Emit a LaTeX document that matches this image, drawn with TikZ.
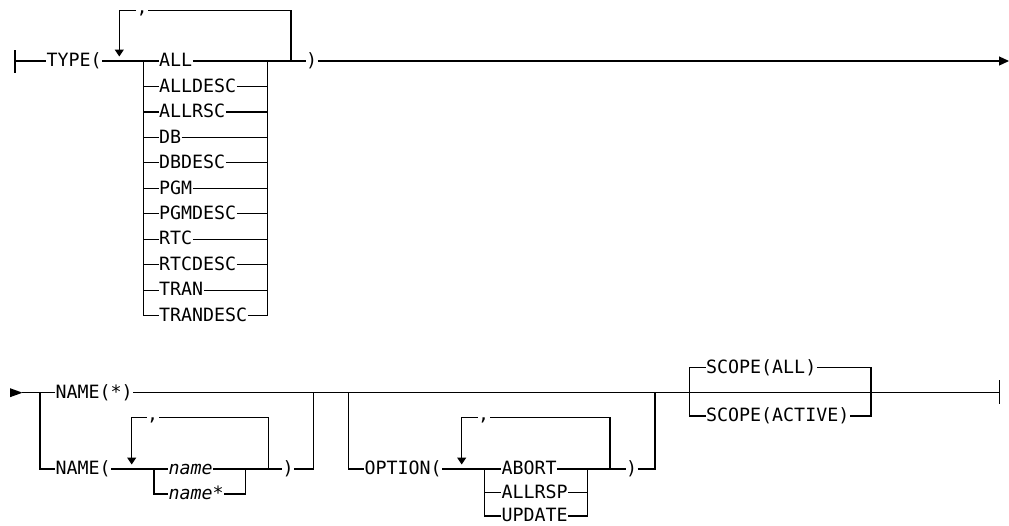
\documentclass[tikz,border=0pt]{standalone}
\usepackage{fontspec}
\setmonofont{DejaVu Sans Mono}
\usetikzlibrary{arrows.meta}

\begin{document}
\begin{tikzpicture}[x=1pt,y=-1pt,line width=1.2pt,
  every node/.style={font=\ttfamily\fontsize{18.3}{20}\selectfont},
  kw/.style={anchor=west,inner xsep=0pt,inner ysep=0pt,text height=11.4pt,text depth=0pt},
  sepc/.style={anchor=west,inner sep=0pt,text height=5.6pt,text depth=0pt},
  rep/.style={-{Triangle[length=7pt,width=9pt]}},
  fin/.style={-{Triangle[length=10pt,width=9pt]}}]
  \useasboundingbox (0,0) rectangle (1009,525);
  \def\ya{61}
  \def\yb{392.7}
  \def\yc{469}
  \def\yl{417.7}
  % TYPE
  \draw (15,50) -- (15,73);
  \coordinate (ts) at (15,\ya);
  \node[kw] (type) at (46,\ya) {TYPE(};
  \coordinate (latip) at (119.3,56.5);
  \node[sepc] (c1) at (136,10.7) {,};
  \coordinate (tloop) at (291,\ya);
  \node[kw] (tclose) at (305.5,\ya) {)};
  \coordinate (tend) at (1009,\ya);
  \foreach \lab [count=\i from 0] in {ALL,ALLDESC,ALLRSC,DB,DBDESC,PGM,PGMDESC,RTC,RTCDESC,TRAN,TRANDESC} {
    \coordinate (tl\i) at (143.3,{\ya+25.47*\i});
    \coordinate (tr\i) at (267.7,{\ya+25.47*\i});
    \node[kw] (t\i) at (158.5,{\ya+25.47*\i}) {\lab};
    \draw (tl\i) -- (t\i.west);
    \draw (t\i.east) -- (tr\i);
  }
  \draw (ts) -- (type.west);
  \draw (type.east) -- (tl0);
  \draw (tl0) -- (tl10);
  \draw (tr0) -- (tr10);
  \draw (tr0) -- (tloop) -- (tclose.west);
  \draw (tloop) |- (c1.east);
  \draw[rep] (c1.west) -| (latip);
  \draw[fin] (tclose.east) -- (tend);
  % NAME
  \fill (10,388.2) -- (22.5,\yb) -- (10,397.2) -- cycle;
  \coordinate (bs) at (22,\yb);
  \coordinate (n0) at (40,\yb);
  \coordinate (n1) at (40,\yc);
  \node[kw] (nstar) at (55,\yb) {NAME(*)};
  \node[kw] (nopen) at (55,\yc) {NAME(};
  \coordinate (nla) at (131.7,464.5);
  \node[sepc] (c2) at (146.5,\yl) {,};
  \coordinate (nl) at (154,\yc);
  \coordinate (nl2) at (154,494);
  \node[kw] (nm) at (168,\yc) {\itshape name};
  \node[kw] (nms) at (168,494) {\itshape name*};
  \coordinate (nr) at (245.7,\yc);
  \coordinate (nr2) at (245.7,494);
  \coordinate (nloop) at (268.3,\yc);
  \node[kw] (nclose) at (282,\yc) {)};
  \coordinate (nend) at (313.3,\yc);
  \coordinate (nend0) at (313.3,\yb);
  \coordinate (bend) at (999.3,\yb);
  \draw (bs) -- (nstar.west);
  \draw (nstar.east) -- (bend);
  \draw (n0) -- (n1) -- (nopen.west);
  \draw (nopen.east) -- (nl) -- (nm.west);
  \draw (nl) -- (nl2) -- (nms.west);
  \draw (nms.east) -- (nr2) -- (nr);
  \draw (nm.east) -- (nloop) -- (nclose.west);
  \draw (nloop) |- (c2.east);
  \draw[rep] (c2.west) -| (nla);
  \draw (nclose.east) -- (nend) -- (nend0);
  % OPTION
  \coordinate (o0) at (348.3,\yb);
  \coordinate (o1) at (348.3,\yc);
  \node[kw] (opt) at (364,\yc) {OPTION(};
  \coordinate (ola) at (461.7,464.5);
  \node[sepc] (c3) at (477.5,\yl) {,};
  \foreach \lab [count=\i from 0] in {ABORT,ALLRSP,UPDATE} {
    \coordinate (ol\i) at (484.3,{\yc+23.5*\i});
    \coordinate (or\i) at (587.7,{\yc+23.5*\i});
    \node[kw] (o\lab) at (501,{\yc+23.5*\i}) {\lab};
    \draw (ol\i) -- (o\lab.west);
    \draw (o\lab.east) -- (or\i);
  }
  \coordinate (oloop) at (610,\yc);
  \node[kw] (oclose) at (625.5,\yc) {)};
  \coordinate (oend) at (655,\yc);
  \coordinate (oend0) at (655,\yb);
  \draw (o0) -- (o1) -- (opt.west);
  \draw (opt.east) -- (ol0) -- (ol2);
  \draw (or0) -- (or2);
  \draw (or0) -- (oloop) -- (oclose.west);
  \draw (oloop) |- (c3.east);
  \draw[rep] (c3.west) -| (ola);
  \draw (oclose.east) -- (oend) -- (oend0);
  % SCOPE
  \coordinate (sl1) at (689.3,367.7);
  \coordinate (sl2) at (689.3,416);
  \coordinate (sr1) at (871,367.7);
  \coordinate (sr2) at (871,416);
  \node[kw] (sall) at (705.5,367.7) {SCOPE(ALL)};
  \node[kw] (sact) at (705.5,416) {SCOPE(ACTIVE)};
  \draw (sall.west) -| (sl2) -- (sact.west);
  \draw (sall.east) -- (sr1) -- (sr2) -- (sact.east);
  \draw (999.3,380) -- (999.3,404);
\end{tikzpicture}
\end{document}
